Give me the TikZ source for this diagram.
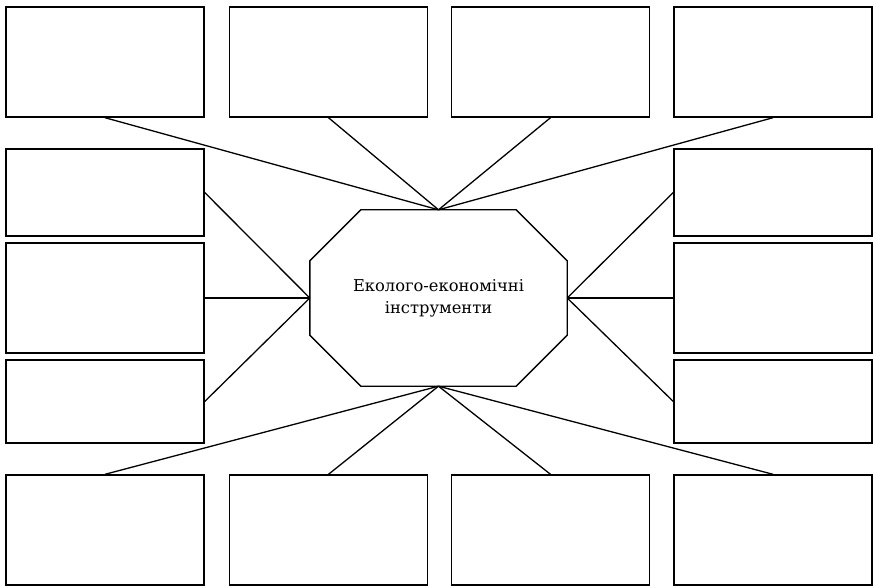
\documentclass[tikz,border=0pt]{standalone}
\usepackage{fontspec}
\setmainfont{DejaVu Serif}
\usetikzlibrary{calc}

\begin{document}
\begin{tikzpicture}[x=1pt,y=1pt,
      box/.style={draw,line width=1.4pt,minimum width=198pt,inner sep=0pt},
      core/.style={minimum width=257pt,minimum height=176pt,inner sep=0pt,align=center,font=\fontsize{16.3}{22}\selectfont},
      link/.style={line width=1.3pt}
    ]
      \useasboundingbox (0,0) rectangle (874,587);
      % upper row
      \node[box,minimum height=110pt] (t1) at (105,525) {};
      \node[box,minimum height=110pt] (t2) at (328.5,525) {};
      \node[box,minimum height=110pt] (t3) at (550.5,525) {};
      \node[box,minimum height=110pt] (t4) at (773,525) {};
      % left column
      \node[box,minimum height=87pt] (l1) at (105,394.5) {};
      \node[box,minimum height=110pt] (l2) at (105,289) {};
      \node[box,minimum height=83pt] (l3) at (105,185.5) {};
      % right column
      \node[box,minimum height=87pt] (r1) at (773,394.5) {};
      \node[box,minimum height=110pt] (r2) at (773,289) {};
      \node[box,minimum height=83pt] (r3) at (773,185.5) {};
      % lower row
      \node[box,minimum height=110pt] (b1) at (105,57) {};
      \node[box,minimum height=110pt] (b2) at (328.5,57) {};
      \node[box,minimum height=110pt] (b3) at (550.5,57) {};
      \node[box,minimum height=110pt] (b4) at (773,57) {};
      % centre
      \node[core] (c) at (438.5,289) {Еколого-економічні\\інструменти};
      \draw[line width=1.4pt] ($(c.north west)+(51,0)$) -- ($(c.north east)+(-51,0)$)
        -- ($(c.north east)+(0,-51)$) -- ($(c.south east)+(0,51)$)
        -- ($(c.south east)+(-51,0)$) -- ($(c.south west)+(51,0)$)
        -- ($(c.south west)+(0,51)$) -- ($(c.north west)+(0,-51)$) -- cycle;
      \draw[link] (t1.south) -- (c.north);
      \draw[link] (t2.south) -- (c.north);
      \draw[link] (t3.south) -- (c.north);
      \draw[link] (t4.south) -- (c.north);
      \draw[link] (l1.east) -- (c.west);
      \draw[link] (l2.east) -- (c.west);
      \draw[link] (l3.east) -- (c.west);
      \draw[link] (r1.west) -- (c.east);
      \draw[link] (r2.west) -- (c.east);
      \draw[link] (r3.west) -- (c.east);
      \draw[link] (b1.north) -- (c.south);
      \draw[link] (b2.north) -- (c.south);
      \draw[link] (b3.north) -- (c.south);
      \draw[link] (b4.north) -- (c.south);
    \end{tikzpicture}
\end{document}
